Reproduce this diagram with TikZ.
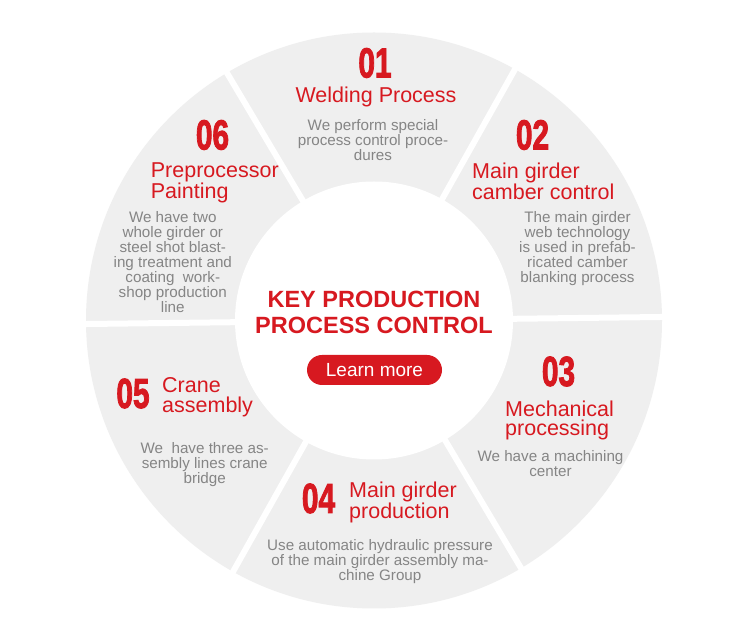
\documentclass[tikz,border=0pt]{standalone}
\usepackage{fontspec}
\setmainfont{Liberation Sans}
\newfontfamily\numfont{Liberation Sans Bold}[FakeBold=2.5]
\usepackage{graphicx}
\definecolor{kred}{HTML}{D71920}
\definecolor{kgray}{HTML}{858585}
\definecolor{kseg}{HTML}{EFEFEF}
\tikzset{
  numtxt/.style={inner sep=0pt,anchor=center,text=kred,font=\fontsize{42}{42}\selectfont\numfont},
  titletxt/.style={inner sep=0pt,anchor=north west,align=left,text=kred,font=\fontsize{21.5}{19.5}\selectfont},
  bodytxt/.style={inner sep=0pt,anchor=north,align=center,text=kgray,font=\fontsize{15.2}{15}\selectfont},
  gapline/.style={white,line width=6pt},
  btn/.style={fill=kred,rounded corners=15pt,minimum width=135pt,minimum height=30pt,inner sep=0pt,text=white,font=\fontsize{19}{19}\selectfont}
}
\newcommand{\numtx}[1]{\scalebox{0.71}[1]{#1}}
\newcommand{\ra}{\rule{0pt}{12pt}}
\newcommand{\rb}{\rule{0pt}{15pt}}
\begin{document}
\begin{tikzpicture}[x=1pt,y=1pt]
\useasboundingbox (0,0) rectangle (750,640);
\fill[white] (0,0) rectangle (750,640);
\coordinate (C) at (374,319.5);
\fill[kseg] (C) circle (288pt);
\foreach \a in {0,60,...,300} \draw[gapline] (C) -- ++(\a+0.7:296pt);
\fill[white] (C) circle (139pt);

% 01
\node[numtxt] (n1) at (375,577) {\numtx{01}};
\node[inner sep=0pt,anchor=base,text=kred,font=\fontsize{21.5}{19.5}\selectfont] (t1) at (376,537) {Welding Process};
\node[bodytxt] (b1) at (373,522) {\ra We perform special\\process control proce-\\dures};
% 02
\node[numtxt] (n2) at (532.5,505) {\numtx{02}};
\node[titletxt] (t2) at (472,477) {\rb Main girder\\camber control};
\node[bodytxt] (b2) at (577.5,429.3) {\ra The main girder\\web technology\\is used in prefab-\\ricated camber\\blanking process};
% 03
\node[numtxt] (n3) at (558.5,268.5) {\numtx{03}};
\node[titletxt] (t3) at (505,239.3) {\rb Mechanical\\processing};
\node[bodytxt] (b3) at (550.5,190.3) {\ra We have a machining\\center};
% 04
\node[numtxt] (n4) at (318.5,141.5) {\numtx{04}};
\node[titletxt] (t4) at (349,158) {\rb Main girder\\production};
\node[bodytxt] (b4) at (380,102) {\ra Use automatic hydraulic pressure\\of the main girder assembly ma-\\chine Group};
% 05
\node[numtxt] (n5) at (133,246.5) {\numtx{05}};
\node[titletxt] (t5) at (162,262.3) {\rb Crane\\assembly};
\node[bodytxt] (b5) at (204.7,199) {\ra We\ \ have three as-\\sembly lines crane\\bridge};
% 06
\node[numtxt] (n6) at (212.5,505) {\numtx{06}};
\node[titletxt] (t6) at (150.7,478) {\rb Preprocessor\\Painting};
\node[bodytxt] (b6) at (172.8,429.3) {\ra We have two\\whole girder or\\steel shot blast-\\ing treatment and\\coating\ \ work-\\shop production\\line};

% centre
\node[inner sep=0pt,anchor=north,align=center,text=kred,font=\fontsize{23.5}{26}\selectfont\bfseries] (ct) at (374,350.5) {\rule{0pt}{17.5pt}KEY PRODUCTION\\PROCESS CONTROL};
\node[btn] (lm) at (374.5,270) {Learn more};
\end{tikzpicture}
\end{document}
